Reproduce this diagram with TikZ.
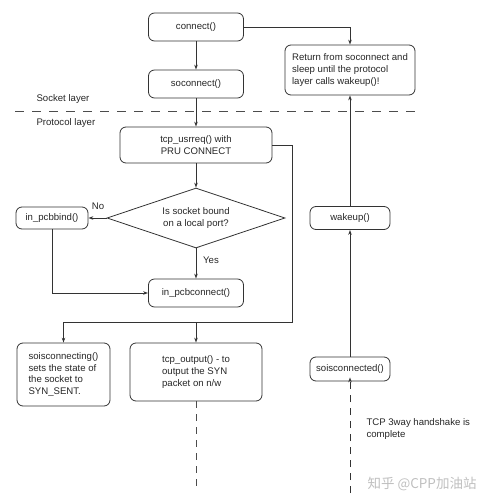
\documentclass[tikz,border=0pt]{standalone}
\usepackage{fontspec}
\setmainfont{Liberation Sans}
\newfontfamily\cjk{Noto Sans CJK SC}
\usepackage{tikz}
\usetikzlibrary{shapes.geometric, arrows.meta}

\begin{document}
\begin{tikzpicture}[x=1pt, y=-1pt,
	box/.style={draw=black!80, thick, rounded corners=6pt, inner sep=3pt, text=black!85},
	txt/.style={align=left, font=\fontsize{9.6}{11.6}\selectfont},
	arr/.style={draw=black!80, thick, -{Stealth[length=5pt, width=3.5pt]}},
	wireline/.style={draw=black!70, thick, dash pattern=on 7pt off 6pt}]
	\useasboundingbox (0,0) rectangle (490,498);

	% socket layer
	\node[box, txt, minimum width=95pt, minimum height=28pt] (connect) at (196,27) {connect()};
	\node[box, txt, minimum width=95pt, minimum height=28pt] (soconn) at (196,84) {soconnect()};
	\node[box, txt, minimum width=130pt, minimum height=50pt] (ret) at (350,70) {Return from soconnect and\\sleep until the protocol\\layer calls wakeup()!};

	\node[txt, anchor=west, text=black!85] (socklbl) at (33,99) {Socket layer};
	\node[txt, anchor=west, text=black!85] (protlbl) at (33,123) {Protocol layer};
	\coordinate (sepl) at (15,111);
	\coordinate (sepr) at (415,111);
	\draw[draw=black!70, thick, dash pattern=on 9pt off 8pt] (sepl) -- (sepr);

	% protocol layer
	\node[box, txt, align=center, minimum width=152pt, minimum height=36pt] (usrreq) at (196,145) {tcp\_usrreq() with\\PRU CONNECT};
	\node[diamond, draw=black!80, thick, txt, align=center, aspect=3, inner sep=0pt, minimum width=178pt, minimum height=60pt, text=black!85] (bound) at (196,218) {Is socket bound\\on a local port?};
	\node[box, txt, minimum width=72pt, minimum height=22pt] (bind) at (52,218) {in\_pcbbind()};
	\node[box, txt, minimum width=95pt, minimum height=28pt] (pconn) at (196,293) {in\_pcbconnect()};
	\node[box, txt, minimum width=80pt, minimum height=23pt] (wake) at (350,218) {wakeup()};
	\node[box, txt, minimum width=80pt, minimum height=24pt] (siscd) at (350,369) {soisconnected()};
	\node[box, txt, minimum width=93pt, minimum height=63pt] (sising) at (63.5,374.5) {soisconnecting()\\sets the state of\\the socket to\\SYN\_SENT.};
	\node[box, txt, minimum width=132pt, minimum height=58pt] (output) at (196,372) {tcp\_output() - to\\output the SYN\\packet on n/w};

	\node[txt, text=black!85] (nolbl) at (98,206) {No};
	\node[txt, text=black!85] (yeslbl) at (211,260) {Yes};
	\node[txt, anchor=north west, text=black!85] (hslbl) at (363,415) {TCP 3way handshake is\\complete};
	\node[text=black!25, font=\cjk\fontsize{13.5}{15}\selectfont] (mark) at (422,484) {知乎 @CPP加油站};

	\coordinate (split) at (292,322);
	\coordinate (junc) at (196,322);
	\coordinate (netout) at (196,491);
	\coordinate (netin) at (350,493);

	\draw[arr] (connect) -- (soconn);
	\draw[arr] (connect.east) -| (ret.north);
	\draw[arr] (soconn) -- (usrreq);
	\draw[arr] (usrreq) -- (bound);
	\draw[arr] (bound.west) -- (bind.east);
	\draw[arr] (bound.south) -- (pconn.north);
	\draw[arr] (bind.south) |- (pconn.west);
	\draw[arr] (usrreq.east) -| (split) -| (sising.north);
	\draw[arr] (junc) -- (output.north);
	\draw[arr] (wake) -- (ret);
	\draw[arr] (siscd) -- (wake);
	\draw[wireline] (output.south) -- (netout);
	\draw[wireline, arr, dash pattern=on 7pt off 6pt] (netin) -- ([yshift=4pt]siscd.south);

\end{tikzpicture}
\end{document}
